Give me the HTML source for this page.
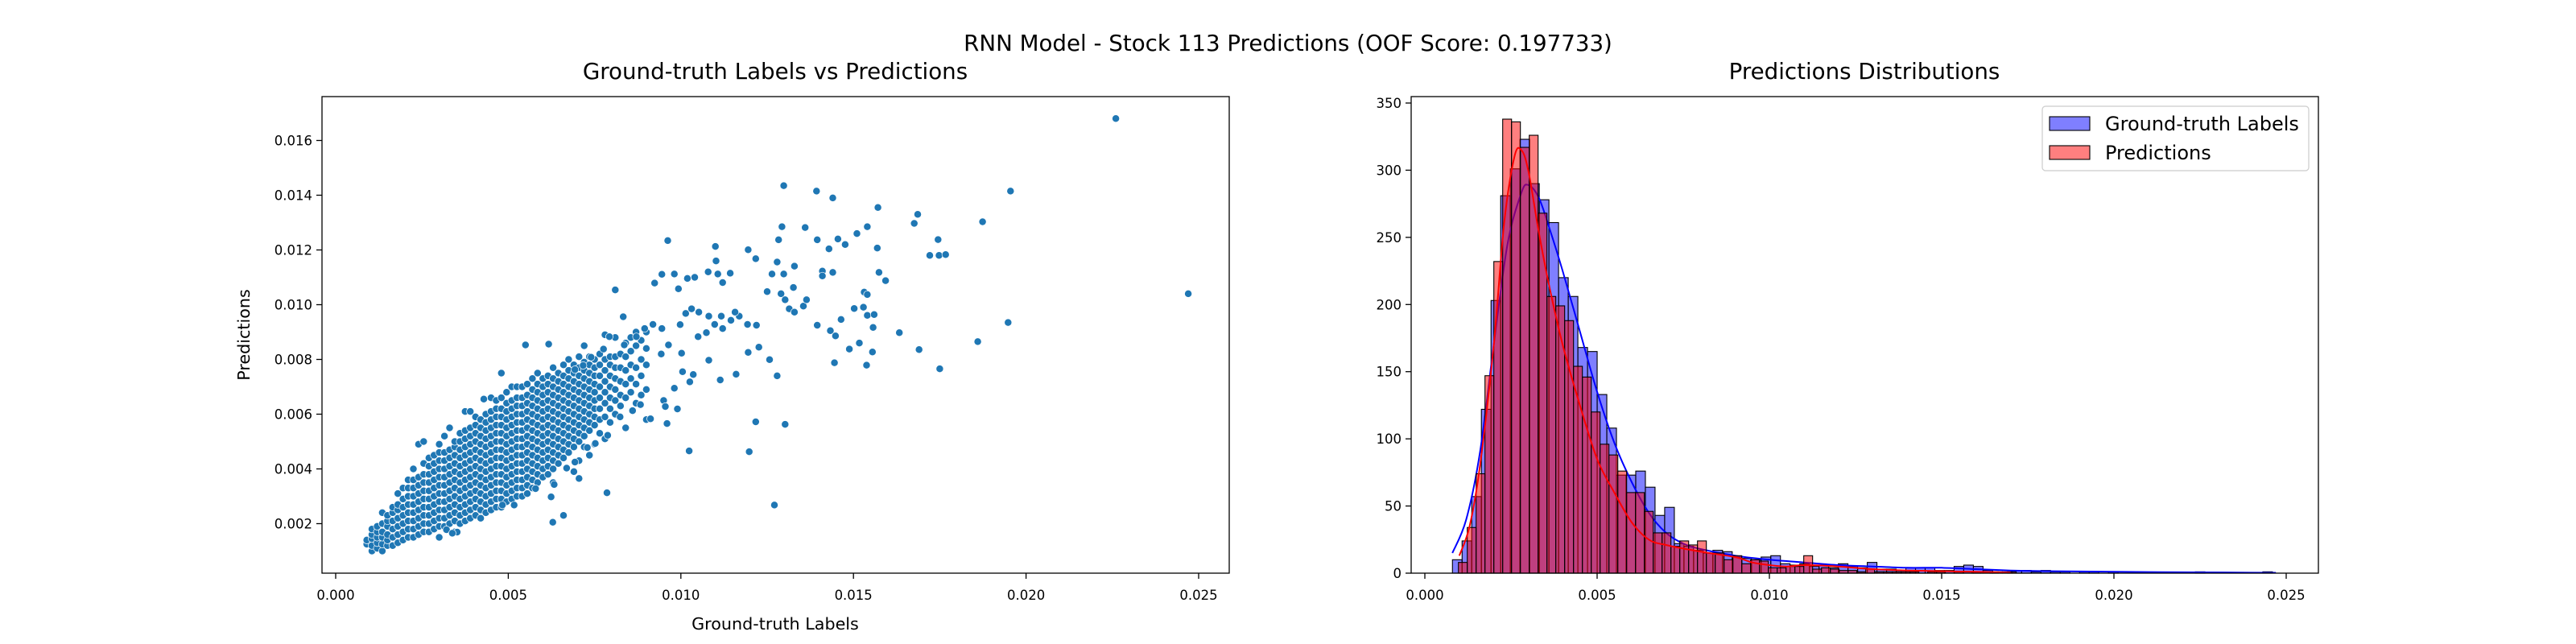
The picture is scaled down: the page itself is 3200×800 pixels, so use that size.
<!DOCTYPE html>
<html><head><meta charset="utf-8">
<style>
html,body{margin:0;padding:0;background:#fff;}
svg{display:block;font-family:"DejaVu Sans","Liberation Sans",sans-serif;}
</style></head>
<body>
<svg id="fig" width="3200" height="800" viewBox="0 0 3200 800" xmlns="http://www.w3.org/2000/svg">
<rect x="0" y="0" width="3200" height="800" fill="#fff"/>
<text x="1600" y="63" font-size="27.7" text-anchor="middle">RNN Model - Stock 113 Predictions (OOF Score: 0.197733)</text>
<text x="963" y="98" font-size="27.7" text-anchor="middle">Ground-truth Labels vs Predictions</text>
<text x="2316" y="98" font-size="27.7" text-anchor="middle">Predictions Distributions</text>
<g id="scatter"></g>
<g id="hist"></g>
</svg>
<script>
// ---------- Scatter data ----------
const scatterTicksX = [0, 0.005, 0.01, 0.015, 0.02, 0.025];
const scatterTickLabelsX = ["0.000","0.005","0.010","0.015","0.020","0.025"];
const scatterTicksY = [0.002,0.004,0.006,0.008,0.010,0.012,0.014,0.016];
const scatterTickLabelsY = ["0.002","0.004","0.006","0.008","0.010","0.012","0.014","0.016"];
const clusterX = [0.0009,0.00105,0.0012,0.00135,0.0015,0.00165,0.0018,0.00195,0.0021,0.00225,0.0024,0.00255,0.0027,0.00285,0.003,0.00315,0.0033,0.00345,0.0036,0.00375,0.0039,0.00405,0.0042,0.00435,0.0045,0.00465,0.0048,0.00495,0.0051,0.00525,0.0054,0.00555,0.0057,0.00585,0.006,0.00615,0.0063,0.00645,0.0066,0.00675,0.0069,0.00705,0.0072,0.00735,0.0075,0.00765,0.0078,0.00795,0.0081,0.00825,0.0084,0.00855,0.0087,0.00885,0.009];
const clusterY = [
[0.00125,0.0014],
[0.001,0.0012,0.00145,0.0016,0.0018],
[0.0011,0.0013,0.0015,0.0017,0.0019],
[0.001,0.00125,0.0015,0.0017,0.002,0.0024],
[0.0012,0.0014,0.0016,0.0019,0.0021,0.0023],
[0.0012,0.0015,0.0018,0.0021,0.0024,0.0026],
[0.0013,0.0016,0.0019,0.0022,0.0025,0.0027,0.0031],
[0.0014,0.0017,0.002,0.0023,0.0026,0.0029,0.0033],
[0.0015,0.0018,0.0021,0.0024,0.0027,0.003,0.0033,0.0036],
[0.0015,0.0018,0.0021,0.0024,0.0027,0.003,0.0033,0.0036,0.004],
[0.0016,0.0019,0.0022,0.0025,0.0028,0.0031,0.0034,0.0037,0.0049],
[0.0017,0.002,0.0023,0.0026,0.0029,0.0032,0.0035,0.0038,0.0042,0.005],
[0.0017,0.002,0.0023,0.0026,0.0029,0.0032,0.0035,0.0038,0.0041,0.0044],
[0.0018,0.0021,0.0024,0.0027,0.003,0.0033,0.0036,0.0039,0.0042,0.0045],
[0.0015,0.0019,0.0022,0.0025,0.0028,0.0031,0.0034,0.0037,0.004,0.0043,0.0046,0.0049],
[0.0019,0.0022,0.0025,0.0028,0.0031,0.0034,0.0037,0.004,0.0043,0.0046,0.0052],
[0.002,0.0023,0.0026,0.0029,0.0032,0.0035,0.0038,0.0041,0.0044,0.0047,0.0055],
[0.0017,0.0021,0.0024,0.0027,0.003,0.0033,0.0036,0.0039,0.0042,0.0045,0.0048,0.005],
[0.002,0.0023,0.0026,0.0029,0.0032,0.0035,0.0038,0.0041,0.0044,0.0047,0.005,0.0053],
[0.0021,0.0024,0.0027,0.003,0.0033,0.0036,0.0039,0.0042,0.0045,0.0048,0.0051,0.0054,0.0061],
[0.0022,0.0025,0.0028,0.0031,0.0034,0.0037,0.004,0.0043,0.0046,0.0049,0.0052,0.0055,0.0061],
[0.0023,0.0026,0.0029,0.0032,0.0035,0.0038,0.0041,0.0044,0.0047,0.005,0.0053,0.0056,0.0059],
[0.0022,0.0025,0.0028,0.0031,0.0034,0.0037,0.004,0.0043,0.0046,0.0049,0.0052,0.0055,0.0058],
[0.0024,0.0027,0.003,0.0033,0.0036,0.0039,0.0042,0.0045,0.0048,0.0051,0.0054,0.0057,0.006],
[0.0025,0.0028,0.0031,0.0034,0.0037,0.004,0.0043,0.0046,0.0049,0.0052,0.0055,0.0058,0.0061,0.0066],
[0.0026,0.0029,0.0032,0.0035,0.0038,0.0041,0.0044,0.0047,0.005,0.0053,0.0056,0.0059,0.0062,0.0065],
[0.0026,0.0029,0.0032,0.0035,0.0038,0.0041,0.0044,0.0047,0.005,0.0053,0.0056,0.0059,0.0062,0.0066,0.0075],
[0.0028,0.0031,0.0034,0.0037,0.004,0.0043,0.0046,0.0049,0.0052,0.0055,0.0058,0.0061,0.0064,0.0068],
[0.0029,0.0032,0.0035,0.0038,0.0041,0.0044,0.0047,0.005,0.0053,0.0056,0.0059,0.0062,0.0065,0.007],
[0.003,0.0033,0.0036,0.0039,0.0042,0.0045,0.0048,0.0051,0.0054,0.0057,0.006,0.0063,0.0066,0.007],
[0.003,0.0033,0.0036,0.0039,0.0042,0.0045,0.0048,0.0051,0.0054,0.0057,0.006,0.0063,0.0066,0.007],
[0.0031,0.0034,0.0037,0.004,0.0043,0.0046,0.0049,0.0052,0.0055,0.0058,0.0061,0.0064,0.0067,0.0071],
[0.0033,0.0036,0.0039,0.0042,0.0045,0.0048,0.0051,0.0054,0.0057,0.006,0.0063,0.0066,0.0069,0.0073],
[0.0035,0.0038,0.0041,0.0044,0.0047,0.005,0.0053,0.0056,0.0059,0.0062,0.0065,0.0068,0.0071,0.0075],
[0.0037,0.004,0.0043,0.0046,0.0049,0.0052,0.0055,0.0058,0.0061,0.0064,0.0067,0.007,0.0073],
[0.0038,0.0041,0.0044,0.0047,0.005,0.0053,0.0056,0.0059,0.0062,0.0065,0.0068,0.0071,0.0074],
[0.0035,0.004,0.0043,0.0046,0.0049,0.0052,0.0055,0.0058,0.0061,0.0064,0.0067,0.007,0.0073,0.0077],
[0.0042,0.0045,0.0048,0.0051,0.0054,0.0057,0.006,0.0063,0.0066,0.0069,0.0072,0.0075],
[0.0044,0.0047,0.005,0.0053,0.0056,0.0059,0.0062,0.0065,0.0068,0.0071,0.0074,0.0078],
[0.0046,0.0049,0.0052,0.0055,0.0058,0.0061,0.0064,0.0067,0.007,0.0073,0.0076,0.008],
[0.0039,0.0048,0.0051,0.0054,0.0057,0.006,0.0063,0.0066,0.0069,0.0072,0.0075,0.0078],
[0.0043,0.005,0.0053,0.0056,0.0059,0.0062,0.0065,0.0068,0.0071,0.0074,0.0077,0.0081],
[0.0048,0.0052,0.0055,0.0058,0.0061,0.0064,0.0067,0.007,0.0073,0.0076,0.0079,0.0085],
[0.0045,0.0054,0.0057,0.006,0.0063,0.0066,0.0069,0.0072,0.0075,0.0078,0.0081],
[0.0049,0.0056,0.0059,0.0062,0.0065,0.0068,0.0071,0.0074,0.0077,0.008],
[0.0053,0.0058,0.0062,0.0066,0.007,0.0074,0.0078,0.0082],
[0.0051,0.0059,0.0064,0.0068,0.0072,0.0076,0.008,0.0089],
[0.0057,0.0062,0.0066,0.007,0.0074,0.0078,0.0081],
[0.006,0.0065,0.0069,0.0073,0.0077,0.0081,0.0088],
[0.0063,0.0067,0.0072,0.0077,0.0082],
[0.0055,0.0066,0.0071,0.0076,0.0081,0.0086],
[0.0068,0.0073,0.0078,0.0083,0.0088],
[0.0064,0.0071,0.0077,0.0085,0.009],
[0.0067,0.0074,0.008,0.0087],
[0.0058,0.0069,0.0078,0.0084,0.009]
];
const outlierX = [0.0226,0.0247,0.01955,0.01874,0.0186,0.01948,0.01298,0.01393,0.0144,0.01571,0.01686,0.01676,0.01745,0.01721,0.01748,0.01767,0.01293,0.0136,0.01283,0.01395,0.01455,0.01476,0.0151,0.0154,0.01429,0.01569,0.00962,0.011,0.01195,0.01217,0.01279,0.01102,0.01329,0.0141,0.0141,0.0144,0.01574,0.01593,0.01264,0.01298,0.01079,0.01143,0.01107,0.01121,
0.00945,0.00981,0.01019,0.0104,0.00993,0.00924,0.0081,0.0125,0.0129,0.01326,0.01302,0.01314,0.01329,0.01355,0.01364,0.01531,0.0154,0.01502,0.01529,0.0154,0.0156,0.01464,0.01395,0.01433,0.01448,0.01557,0.01633,0.01488,0.01517,0.01555,0.0169,0.01445,0.01538,0.0175,0.01257,0.01279,0.01195,0.01226,0.01217,0.01302,0.01198,0.01271,0.01024,0.00786,0.0066,0.00629,0.0099,0.0096,0.00912,0.01114,0.0116,0.01081,0.01036,0.01005,0.00833,0.00964,0.00943,0.00617,0.0055,0.00429,0.00483,0.00517,0.00321,0.00352,0.00338,
0.01031,0.01014,0.00998,0.00945,0.00919,0.00895,0.00871,0.00836,0.00793,0.00776,0.0074,0.00717,0.00693,0.01002,0.0105,0.01074,0.01098,0.01121,0.01145,0.01169,0.01193,0.01219,0.01081,0.01052,0.01117,0.01157,0.01026,0.00981,0.0095,0.00883,0.0086,0.00824,0.00788,0.00752,0.00729,0.00693,0.00669,0.00705,0.00633,0.00624,0.00579,0.00955];
const outlierY = [0.0168,0.0104,0.01415,0.01303,0.00865,0.00935,0.01435,0.01415,0.0139,0.01355,0.0133,0.01297,0.01238,0.0118,0.0118,0.01183,0.01285,0.01282,0.01237,0.01237,0.0124,0.0122,0.0126,0.01285,0.01204,0.01207,0.01234,0.01213,0.01201,0.01168,0.01156,0.0116,0.01141,0.01123,0.01105,0.01118,0.01118,0.01088,0.01112,0.01112,0.0112,0.01115,0.01112,0.01081,
0.01111,0.01112,0.01096,0.011,0.01058,0.01079,0.01054,0.01048,0.0104,0.01063,0.01018,0.00985,0.00973,0.00995,0.01018,0.01046,0.01037,0.00986,0.00991,0.00961,0.00964,0.00946,0.00925,0.00905,0.00886,0.00917,0.00898,0.00838,0.0086,0.00827,0.00836,0.00788,0.00779,0.00766,0.00799,0.0074,0.00826,0.00845,0.00572,0.00563,0.00463,0.00268,0.00466,0.00313,0.0023,0.00205,0.00619,0.00566,0.00583,0.00725,0.00746,0.00797,0.00745,0.00755,0.00956,0.00853,0.0082,0.00856,0.00853,0.00655,0.00268,0.00268,0.00178,0.00169,0.00165,
0.00985,0.00968,0.00927,0.00913,0.00928,0.00913,0.00883,0.00853,0.00883,0.00838,0.00808,0.00778,0.00763,0.00823,0.00883,0.00898,0.00928,0.00913,0.00943,0.00958,0.00928,0.00925,0.00958,0.00973,0.00958,0.00973,0.00718,0.00695,0.0065,0.00635,0.00613,0.0059,0.00523,0.00493,0.00478,0.00425,0.00403,0.00365,0.00343,0.00298,0.00328,0.00628];

// ---------- Histogram data ----------
const histTicksX = [0,0.005,0.01,0.015,0.02,0.025];
const histTickLabelsX = ["0.000","0.005","0.010","0.015","0.020","0.025"];
const histTicksY = [0,50,100,150,200,250,300,350];
const histTickLabelsY = ["0","50","100","150","200","250","300","350"];
const blueBinStart = 0.000801;
const blueBinWidth = 0.00028;
const blueCounts = [10,24,57,122,203,281,301,323,290,278,261,220,206,168,165,133,108,73,73,76,64,43,49,22,20,17,15,17,16,12,11,10,12,13,7,6,7,5,6,4,7,5,4,8,3,3,2,4,4,4,2,2,5,6,5,2,1,1,2,2,1,2,1,1,0,1,1,0,1,0,0,0,0,0,0,0,0,1,0,0,0,0,0,0,1];
const redBinStart = 0.000974;
const redBinWidth = 0.000257;
const redCounts = [8,34,74,147,232,338,336,317,326,268,206,199,188,154,146,120,96,88,76,60,60,46,30,30,20,24,21,24,15,15,10,13,7,10,9,4,4,5,5,13,3,4,3,2,2,1,3,1,1,1,1,1,0,1,1,0,1,0,1,0,1,0,1];
const blueKdeX = [0.0008,0.0012,0.0016,0.002,0.0024,0.0028,0.003,0.0033,0.0036,0.004,0.0045,0.005,0.0055,0.006,0.0065,0.007,0.0075,0.008,0.009,0.01,0.011,0.012,0.013,0.014,0.015,0.016,0.017,0.018,0.02,0.0225,0.0247];
const blueKdeY = [15,40,90,170,245,283,289,280,258,225,180,135,97,68,45,30,22,18,13,10,8,6,5,4,4,3,2,1.5,1,0.6,0.3];
const redKdeX = [0.001,0.0013,0.0016,0.002,0.0023,0.0026,0.0028,0.003,0.0033,0.0036,0.004,0.0045,0.005,0.0055,0.006,0.0065,0.007,0.008,0.009,0.0095,0.01,0.0105,0.011,0.012,0.013,0.014,0.015,0.016,0.017];
const redKdeY = [13,35,80,170,260,310,315,300,255,215,170,125,85,60,38,25,21,16,12,8,6,5,6,5,3,2,1.5,1,0.5];

const NS = "http://www.w3.org/2000/svg";
function mk(tag, attrs, parent){ const e=document.createElementNS(NS,tag); for(const k in attrs) e.setAttribute(k,attrs[k]); parent.appendChild(e); return e; }

// ---------- Scatter ----------
(function(){
  const g = document.getElementById('scatter');
  const L=400,R=1527,T=120,B=712;
  const sx = v => 417 + v*42880;
  const sy = v => 650.5 - (v-0.002)*34000;
  const pts = mk('g',{},g);
  
  
  function dot(x,y){
    const c = mk('circle',{cx:sx(x).toFixed(1),cy:sy(y).toFixed(1),r:4.6,fill:'#1f77b4',stroke:'#fff','stroke-width':0.7},pts);
    
    
  }
  clusterX.forEach((x,i)=>clusterY[i].forEach(y=>dot(x,y)));
  outlierX.forEach((x,i)=>dot(x,outlierY[i]));
  const frame = mk('rect',{x:L,y:T,width:R-L,height:B-T,fill:'none',stroke:'#000','stroke-width':1.3},g);
  
  
  scatterTicksX.forEach((v,i)=>{
    mk('line',{x1:sx(v),x2:sx(v),y1:B,y2:B+7,stroke:'#000','stroke-width':1.3},g);
    const t = mk('text',{x:sx(v),y:B+33,'font-size':16.5,'text-anchor':'middle'},g);
    t.textContent = scatterTickLabelsX[i];
    
    
  });
  scatterTicksY.forEach((v,i)=>{
    mk('line',{x1:L,x2:L-7,y1:sy(v),y2:sy(v),stroke:'#000','stroke-width':1.3},g);
    const t = mk('text',{x:L-12,y:sy(v)+6,'font-size':16.5,'text-anchor':'end'},g);
    t.textContent = scatterTickLabelsY[i];
    
    
  });
  const xl = mk('text',{x:963,y:782,'font-size':20.7,'text-anchor':'middle'},g);
  xl.textContent='Ground-truth Labels';
  
  
  const yl = mk('text',{x:0,y:0,'font-size':20.7,'text-anchor':'middle',transform:'translate(310,416) rotate(-90)'},g);
  yl.textContent='Predictions';
  
  
})();

// ---------- Histogram ----------
(function(){
  const g = document.getElementById('hist');
  const L=1753,R=2880,T=120,B=712;
  const sx = v => 1770 + v*42800;
  const sy = c => 712 - c*1.6686;
  function bars(start,width,counts,fill,name){
    const bg = mk('g',{},g);
    
    
    counts.forEach((c,i)=>{
      if(c<=0) return;
      const x0=sx(start+i*width), x1=sx(start+(i+1)*width);
      const r = mk('rect',{x:x0.toFixed(2),y:sy(c).toFixed(2),width:(x1-x0).toFixed(2),height:(c*1.6686).toFixed(2),fill:fill,stroke:'#000','stroke-width':1.1},bg);
      
      
    });
  }
  function kde(xs,ys,color,name){
    const P = xs.map((x,i)=>[sx(x),sy(ys[i])]);
    let d = 'M'+P[0][0].toFixed(1)+','+P[0][1].toFixed(1);
    for(let i=0;i<P.length-1;i++){
      const p0=P[Math.max(0,i-1)], p1=P[i], p2=P[i+1], p3=P[Math.min(P.length-1,i+2)];
      const c1=[p1[0]+(p2[0]-p0[0])/6, p1[1]+(p2[1]-p0[1])/6];
      const c2=[p2[0]-(p3[0]-p1[0])/6, p2[1]-(p3[1]-p1[1])/6];
      d += ' C'+c1[0].toFixed(1)+','+c1[1].toFixed(1)+' '+c2[0].toFixed(1)+','+c2[1].toFixed(1)+' '+p2[0].toFixed(1)+','+p2[1].toFixed(1);
    }
    const p = mk('path',{d:d,fill:'none',stroke:color,'stroke-width':2,'stroke-linejoin':'round'},g);
    
    
  }
  bars(blueBinStart,blueBinWidth,blueCounts,'rgba(0,0,255,0.5)','ground-truth-bars');
  kde(blueKdeX,blueKdeY,'#0000ff','ground-truth-kde');
  bars(redBinStart,redBinWidth,redCounts,'rgba(255,0,0,0.5)','predictions-bars');
  kde(redKdeX,redKdeY,'#ff0000','predictions-kde');
  const frame = mk('rect',{x:L,y:T,width:R-L,height:B-T,fill:'none',stroke:'#000','stroke-width':1.3},g);
  
  
  histTicksX.forEach((v,i)=>{
    mk('line',{x1:sx(v),x2:sx(v),y1:B,y2:B+7,stroke:'#000','stroke-width':1.3},g);
    const t = mk('text',{x:sx(v),y:B+33,'font-size':16.5,'text-anchor':'middle'},g);
    t.textContent = histTickLabelsX[i];
    
    
  });
  histTicksY.forEach((v,i)=>{
    mk('line',{x1:L,x2:L-7,y1:sy(v),y2:sy(v),stroke:'#000','stroke-width':1.3},g);
    const t = mk('text',{x:L-12,y:sy(v)+6,'font-size':16.5,'text-anchor':'end'},g);
    t.textContent = histTickLabelsY[i];
    
    
  });
  // legend
  const lg = mk('g',{},g);
  
  
  mk('rect',{x:2537,y:132,width:331,height:80,rx:4,fill:'#fff','fill-opacity':0.8,stroke:'#ccc','stroke-width':1.2},lg);
  const items=[['Ground-truth Labels','rgba(0,0,255,0.5)',145],['Predictions','rgba(255,0,0,0.5)',181]];
  items.forEach(it=>{
    const e = mk('g',{},lg);
    
    
    mk('rect',{x:2546,y:it[2],width:50,height:17,fill:it[1],stroke:'#000','stroke-width':1.1},e);
    const t = mk('text',{x:2615,y:it[2]+17,'font-size':24},e);
    t.textContent = it[0];
  });
})();
</script>
</body></html>
